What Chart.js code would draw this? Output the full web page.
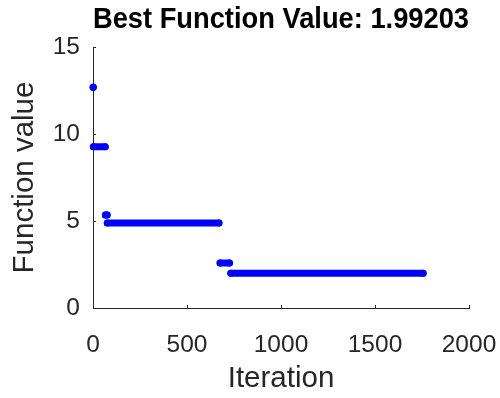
<!DOCTYPE html>
<html>
<head>
<meta charset="utf-8">
<script src="https://cdn.jsdelivr.net/npm/chart.js@4/dist/chart.umd.min.js"></script>
<style>
  html, body { margin: 0; padding: 0; background: #fff; }
  #wrap { width: 500px; height: 398px; }
</style>
</head>
<body>
<div id="wrap"><canvas id="c" width="500" height="398"></canvas></div>
<script>
// Data: runs of iterations with the same best function value
const segStart = [1, 2, 66, 76, 676, 733];
const segEnd   = [1, 65, 75, 670, 726, 1756];
const segValue = [12.68, 9.27, 5.34, 4.89, 2.59, 1.99203];
const xTicks = [0, 500, 1000, 1500, 2000];
const yTicks = [0, 5, 10, 15];
const titleText = 'Best Function Value: 1.99203';

const FONT = "'Liberation Sans', Arial, Helvetica, sans-serif";
const AX = '#262626';

const datasets = segValue.map((v, i) => ({
  data: [{x: segStart[i], y: v}, {x: segEnd[i], y: v}],
  borderColor: '#0000ff',
  backgroundColor: '#0000ff',
  borderWidth: 7,
  borderCapStyle: 'round',
  pointRadius: 3.5,
  pointBorderWidth: 0,
  pointHoverRadius: 3.5,
  showLine: true,
  clip: false
}));

const innerTicks = {
  id: 'innerTicks',
  afterDraw(chart) {
    const ctx = chart.ctx;
    const xs = chart.scales.x, ys = chart.scales.y;
    const a = chart.chartArea;
    ctx.save();
    ctx.strokeStyle = AX;
    ctx.lineWidth = 1;
    ctx.beginPath();
    xTicks.forEach(t => {
      const px = Math.round(xs.getPixelForValue(t)) + 0.5;
      ctx.moveTo(px, a.bottom);
      ctx.lineTo(px, a.bottom - 3);
    });
    yTicks.forEach(t => {
      const py = Math.round(ys.getPixelForValue(t)) + 0.5;
      ctx.moveTo(a.left, py);
      ctx.lineTo(a.left + 3, py);
    });
    ctx.stroke();
    ctx.restore();
  }
};

new Chart(document.getElementById('c'), {
  type: 'scatter',
  data: { datasets },
  options: {
    responsive: false,
    animation: false,
    devicePixelRatio: 1,
    layout: { padding: { left: 0, right: 31, top: 0, bottom: 0 } },
    plugins: {
      legend: { display: false },
      tooltip: { enabled: false },
      title: {
        display: true,
        text: titleText,
        fullSize: false,
        color: '#000',
        font: { family: FONT, size: 30, weight: 'bold' },
        padding: { top: 2, bottom: 9 }
      }
    },
    scales: {
      x: {
        type: 'linear',
        min: 0, max: 2000,
        afterBuildTicks: s => { s.ticks = xTicks.map(v => ({ value: v })); },
        afterFit: s => { s.height = 90; s.paddingLeft = 0; s.paddingRight = 0; },
        grid: { display: false, drawTicks: false },
        border: { display: true, color: AX, width: 1 },
        ticks: { color: AX, font: { family: FONT, size: 24.5 }, padding: 23, maxRotation: 0, callback: v => String(v) },
        title: { display: true, text: 'Iteration', color: AX, font: { family: FONT, size: 29.5 }, padding: { top: 0, bottom: 1.3 } }
      },
      y: {
        type: 'linear',
        min: 0, max: 15,
        afterBuildTicks: s => { s.ticks = yTicks.map(v => ({ value: v })); },
        afterFit: s => { s.width = 93; s.paddingTop = 0; s.paddingBottom = 0; },
        grid: { display: false, drawTicks: false },
        border: { display: true, color: AX, width: 1 },
        ticks: { color: AX, font: { family: FONT, size: 24.5 }, padding: 13, callback: v => String(v) },
        title: { display: true, text: 'Function value', color: AX, font: { family: FONT, size: 29.5 }, padding: { top: 7.3, bottom: 0 } }
      }
    }
  },
  plugins: [innerTicks]
});
</script>
</body>
</html>
